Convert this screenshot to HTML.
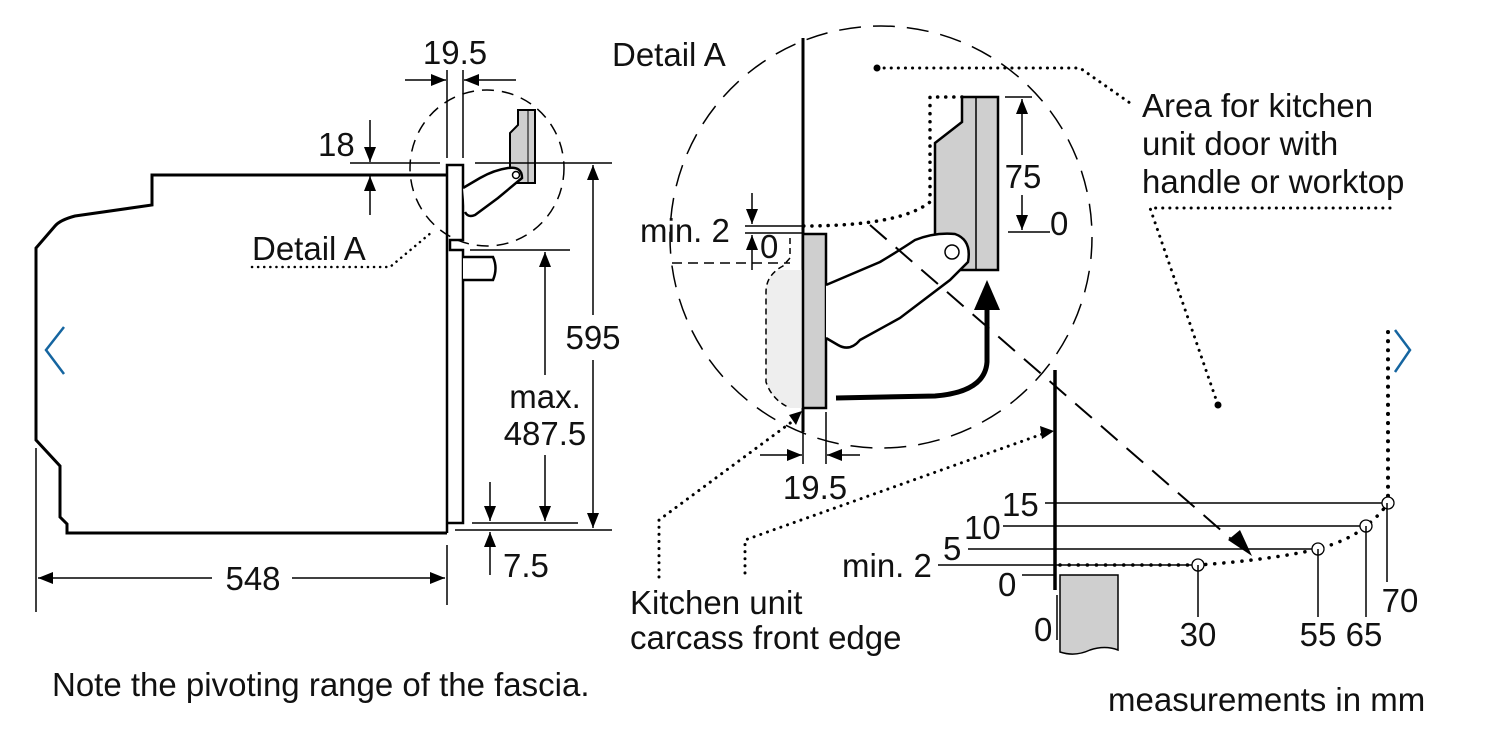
<!DOCTYPE html>
<html><head><meta charset="utf-8"><style>
html,body{margin:0;padding:0;background:#fff;}
svg{display:block;}
text{font-family:"Liberation Sans",sans-serif;fill:#111;}
</style></head><body>
<svg width="1497" height="733" viewBox="0 0 1497 733" xmlns="http://www.w3.org/2000/svg">
<defs>
<marker id="ar" viewBox="0 0 10 10" refX="10" refY="5" markerWidth="15" markerHeight="15" markerUnits="userSpaceOnUse" orient="auto"><path d="M0,1 L10,5 L0,9 z" fill="#000"/></marker>
</defs>
<g fill="none" stroke="#000">
<path d="M447,175 L152,175 L152,205 L75,216 Q60,220 55,226 L36,248 L36,440 L60,466 L60,517 L67,524 L67,533 L447,533" stroke-width="3"/>
<line x1="36" y1="448" x2="36" y2="612" stroke-width="1.5"/>
<path d="M447,165 L463,165 L463,240 L450,240 L450,250 L463,250 L463,523 L447,523 Z M447,165 L447,533" stroke-width="2.5" fill="#fff"/>
<path d="M463,257 L493,257 Q498,268 493,280 L463,280" stroke-width="2.5" fill="#fff"/>
<path d="M518,110 L535,110 L535,183 L510,183 L510,133 L518,125 Z" fill="#cfcfcf" stroke-width="2"/>
<line x1="528" y1="110" x2="528" y2="183" stroke-width="1"/>
<path d="M463,188 L480,178 Q494,170 508,168 Q522,166 522,178 L498,198 L475,215 Q468,218 465,212" fill="#fff" stroke-width="2.5"/>
<circle cx="516" cy="175" r="3.5" stroke-width="1.5" fill="#fff"/>
<ellipse cx="487" cy="168" rx="77" ry="78" stroke-width="1.5" stroke-dasharray="12,8"/>
<line x1="447" y1="70" x2="447" y2="158" stroke-width="1.5"/>
<line x1="463" y1="70" x2="463" y2="158" stroke-width="1.5"/>
<line x1="405" y1="80" x2="446" y2="80" stroke-width="1.5" marker-end="url(#ar)"/>
<line x1="516" y1="80" x2="464" y2="80" stroke-width="1.5" marker-end="url(#ar)"/>
<line x1="350" y1="163" x2="440" y2="163" stroke-width="1.5"/>
<line x1="370" y1="120" x2="370" y2="162" stroke-width="1.5" marker-end="url(#ar)"/>
<line x1="370" y1="215" x2="370" y2="176" stroke-width="1.5" marker-end="url(#ar)"/>
<line x1="475" y1="163" x2="612" y2="163" stroke-width="1.5"/>
<line x1="455" y1="530" x2="612" y2="530" stroke-width="1.5"/>
<line x1="470" y1="250" x2="570" y2="250" stroke-width="1.5"/>
<line x1="472" y1="523" x2="578" y2="523" stroke-width="1.5"/>
<line x1="593" y1="315" x2="593" y2="165" stroke-width="1.5" marker-end="url(#ar)"/>
<line x1="593" y1="360" x2="593" y2="528" stroke-width="1.5" marker-end="url(#ar)"/>
<line x1="545" y1="375" x2="545" y2="252" stroke-width="1.5" marker-end="url(#ar)"/>
<line x1="545" y1="455" x2="545" y2="521" stroke-width="1.5" marker-end="url(#ar)"/>
<line x1="490" y1="482" x2="490" y2="521" stroke-width="1.5" marker-end="url(#ar)"/>
<line x1="490" y1="575" x2="490" y2="532" stroke-width="1.5" marker-end="url(#ar)"/>
<line x1="447" y1="545" x2="447" y2="605" stroke-width="1.5"/>
<line x1="212" y1="578" x2="38" y2="578" stroke-width="1.5" marker-end="url(#ar)"/>
<line x1="292" y1="578" x2="445" y2="578" stroke-width="1.5" marker-end="url(#ar)"/>
<path d="M252,267 L390,267 L432,232" stroke-width="2.5" stroke-dasharray="0.1,6" stroke-linecap="round"/>

<circle cx="881" cy="237" r="211" stroke-width="1.5" stroke-dasharray="22,12"/>
<line x1="803" y1="38" x2="803" y2="432" stroke-width="3"/>
<path d="M790,270 L778,270 Q766,278 766,292 L766,382 Q772,400 790,408 L803,408 L803,270 Z" fill="#eee" stroke="none"/>
<path d="M790,238 L790,258 L783,266 Q766,275 766,292 L766,382 Q772,400 790,408" stroke-width="1.5" stroke-dasharray="6,4"/>
<line x1="672" y1="263" x2="790" y2="263" stroke-width="1.5" stroke-dasharray="10,6"/>
<rect x="803" y="234" width="23" height="174" fill="#cfcfcf" stroke-width="2.5"/>
<path d="M962,97 L998,97 L998,270 L935,270 L935,143 L962,122 Z" fill="#cfcfcf" stroke-width="2.5"/>
<line x1="976" y1="97" x2="976" y2="270" stroke-width="1.5"/>
<path d="M962,97 L930,97 L930,202 Q900,226 803,226" stroke-width="3.5" stroke-dasharray="0.1,8" stroke-linecap="round"/>
<path d="M826,285 L880,262 Q900,250 915,240 Q935,232 955,234 Q972,240 968,262 L950,280 L900,318 L860,340 Q850,352 838,345 L826,338" fill="#fff" stroke-width="2.5"/>
<circle cx="952" cy="252" r="7" fill="#fff" stroke-width="1.5"/>
<path d="M836,398 L935,396 Q985,392 987,362 L987,308" stroke-width="5"/>
<path d="M974,310 L987,280 L1000,310 Z" fill="#000" stroke="none"/>
<line x1="870" y1="225" x2="1238" y2="545" stroke-width="2" stroke-dasharray="22,12"/>
<path d="M1228,540 L1252,556 L1240,530 Z" fill="#000" stroke="none"/>
<line x1="1005" y1="97" x2="1032" y2="97" stroke-width="1.5"/>
<line x1="1008" y1="232" x2="1050" y2="232" stroke-width="1.5"/>
<line x1="1022" y1="155" x2="1022" y2="99" stroke-width="1.5" marker-end="url(#ar)"/>
<line x1="1022" y1="195" x2="1022" y2="230" stroke-width="1.5" marker-end="url(#ar)"/>
<line x1="745" y1="226" x2="803" y2="226" stroke-width="1.5"/>
<line x1="745" y1="233" x2="803" y2="233" stroke-width="1.5"/>
<line x1="752" y1="193" x2="752" y2="224" stroke-width="1.5" marker-end="url(#ar)"/>
<line x1="752" y1="270" x2="752" y2="235" stroke-width="1.5" marker-end="url(#ar)"/>
<line x1="803" y1="415" x2="803" y2="464" stroke-width="1.5"/>
<line x1="826" y1="412" x2="826" y2="464" stroke-width="1.5"/>
<line x1="760" y1="455" x2="802" y2="455" stroke-width="1.5" marker-end="url(#ar)"/>
<line x1="860" y1="455" x2="827" y2="455" stroke-width="1.5" marker-end="url(#ar)"/>
<path d="M659,577 L659,520 L797,418" stroke-width="3" stroke-dasharray="0.1,7" stroke-linecap="round"/>
<path d="M745,573 L745,540 L1048,432" stroke-width="3" stroke-dasharray="0.1,7" stroke-linecap="round"/>
<path d="M789,415 L802,411 L796,425 Z" fill="#000" stroke="none"/>
<path d="M1040,426 L1054,431 L1042,439 Z" fill="#000" stroke="none"/>
<path d="M877,68 L1080,68 L1130,103" stroke-width="3" stroke-dasharray="0.1,7" stroke-linecap="round"/>
<circle cx="877" cy="68" r="3.5" fill="#000" stroke="none"/>
<path d="M1390,208 L1150,208 L1218,405" stroke-width="3" stroke-dasharray="0.1,7" stroke-linecap="round"/>
<circle cx="1218" cy="405" r="3.5" fill="#000" stroke="none"/>
<line x1="1388" y1="332" x2="1388" y2="498" stroke-width="4" stroke-dasharray="0.1,9" stroke-linecap="round"/>
<line x1="1055" y1="370" x2="1055" y2="590" stroke-width="3.5"/>
<line x1="1057" y1="595" x2="1057" y2="640" stroke-width="1.5"/>
<path d="M1060,575 L1118,575 L1118,650 Q1105,645 1090,650 Q1075,657 1060,652 Z" fill="#cfcfcf" stroke-width="1.5"/>
<line x1="1045" y1="503" x2="1383" y2="503" stroke-width="1.5"/>
<line x1="1003" y1="526" x2="1361" y2="526" stroke-width="1.5"/>
<line x1="968" y1="549" x2="1313" y2="549" stroke-width="1.5"/>
<line x1="938" y1="565" x2="1193" y2="565" stroke-width="1.5"/>
<line x1="1022" y1="575" x2="1055" y2="575" stroke-width="1.5"/>
<path d="M1060,565 L1198,565 Q1270,560 1318,549 Q1350,540 1366,526 Q1380,515 1388,503" stroke-width="3.5" stroke-dasharray="0.1,9" stroke-linecap="round"/>
<circle cx="1198" cy="565" r="6" stroke-width="1.3" fill="#fff"/>
<circle cx="1318" cy="549" r="6" stroke-width="1.3" fill="#fff"/>
<circle cx="1366" cy="526" r="6" stroke-width="1.3" fill="#fff"/>
<circle cx="1388" cy="503" r="6" stroke-width="1.3" fill="#fff"/>
<line x1="1198" y1="565" x2="1198" y2="617" stroke-width="1.5"/>
<line x1="1318" y1="549" x2="1318" y2="617" stroke-width="1.5"/>
<line x1="1366" y1="526" x2="1366" y2="617" stroke-width="1.5"/>
<line x1="1387" y1="503" x2="1387" y2="582" stroke-width="1.5"/>
<path d="M64,327 L46,350 L64,374" stroke="#1565a0" stroke-width="2.5"/>
<path d="M1395,330 L1410,350 L1395,372" stroke="#1565a0" stroke-width="2.5"/>
</g>
<g font-size="33">
<text x="455" y="64" text-anchor="middle">19.5</text>
<text x="318" y="156">18</text>
<text x="252" y="260">Detail A</text>
<rect x="562" y="318" width="64" height="38" fill="#fff"/>
<text x="593" y="349" text-anchor="middle">595</text>
<text x="545" y="408" text-anchor="middle">max.</text>
<text x="545" y="445" text-anchor="middle">487.5</text>
<text x="503" y="577">7.5</text>
<text x="253" y="590" text-anchor="middle">548</text>
<text x="612" y="66">Detail A</text>
<text x="640" y="242">min. 2</text>
<text x="760" y="258">0</text>
<rect x="1004" y="158" width="38" height="34" fill="#fff"/>
<text x="1023" y="188" text-anchor="middle">75</text>
<text x="1050" y="235">0</text>
<text x="1142" y="117">Area for kitchen</text>
<text x="1142" y="155">unit door with</text>
<text x="1142" y="193">handle or worktop</text>
<text x="815" y="499" text-anchor="middle">19.5</text>
<text x="630" y="614">Kitchen unit</text>
<text x="630" y="649">carcass front edge</text>
<text x="1002" y="516">15</text>
<text x="964" y="539">10</text>
<text x="943" y="560">5</text>
<text x="842" y="577">min. 2</text>
<text x="998" y="596">0</text>
<text x="1034" y="641">0</text>
<text x="1198" y="646" text-anchor="middle">30</text>
<text x="1318" y="646" text-anchor="middle">55</text>
<text x="1364" y="646" text-anchor="middle">65</text>
<text x="1400" y="612" text-anchor="middle">70</text>
<text x="52" y="696">Note the pivoting range of the fascia.</text>
<text x="1108" y="711">measurements in mm</text>
</g>
</svg>
</body></html>
